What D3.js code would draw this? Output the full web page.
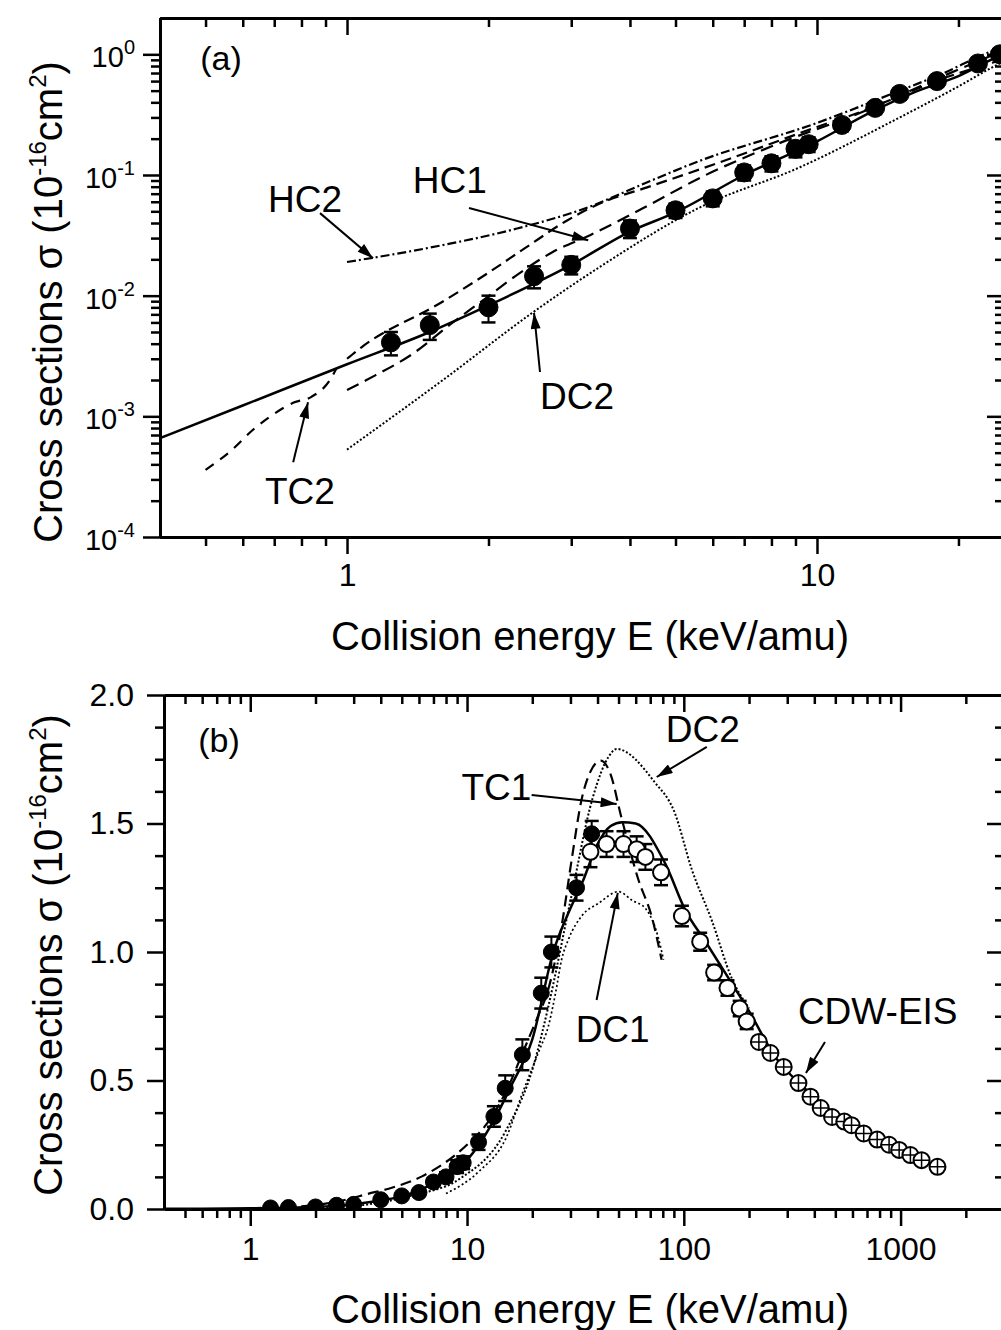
<!DOCTYPE html>
<html>
<head>
<meta charset="utf-8">
<script src="https://cdn.jsdelivr.net/npm/d3@7"></script>
<style>
  body { margin: 0; background: #fff; }
  text { font-family: "Liberation Sans", Arial, Helvetica, sans-serif; fill: #000; }
</style>
</head>
<body>
<svg id="chart" width="1001" height="1330"></svg>
<script>
// ---- measured cross sections (10^-16 cm^2) vs E (keV/amu) ----
var expE   = [1.24, 1.5, 2.0, 2.5, 3.0, 4.0, 5.0, 6.0, 7.0, 8.0, 9.0, 9.6, 11.3, 13.3, 15, 18, 22, 24.5, 32, 37.6];
var expS   = [0.0041, 0.0057, 0.0080, 0.0145, 0.018, 0.036, 0.051, 0.064, 0.105, 0.125, 0.165, 0.18, 0.26, 0.36, 0.47, 0.60, 0.84, 1.0, 1.25, 1.46];
var expErr = [0.0009, 0.0014, 0.002, 0.003, 0.003, 0.006, 0.007, 0.009, 0.015, 0.018, 0.025, 0.025, 0.03, 0.04, 0.05, 0.06, 0.06, 0.06, 0.05, 0.05];

var openE   = [37.1, 44, 52.7, 60.6, 66.5, 78.5, 98, 119, 138, 159, 181, 195];
var openS   = [1.39, 1.42, 1.42, 1.40, 1.37, 1.31, 1.14, 1.04, 0.92, 0.86, 0.78, 0.73];
var openErr = [0.06, 0.05, 0.05, 0.05, 0.05, 0.05, 0.04, 0.035, 0.03, 0.03, 0.03, 0.03];

var crossE = [222, 251, 289, 338, 384, 428, 483, 550, 594, 676, 780, 885, 985, 1110, 1250, 1480];
var crossS = [0.65, 0.607, 0.553, 0.49, 0.437, 0.393, 0.358, 0.34, 0.326, 0.294, 0.27, 0.25, 0.23, 0.21, 0.19, 0.164];

// ---- theory curves ----
var solidE = [0.4, 0.6, 1.0, 1.5, 2, 3, 4, 5, 7, 10, 13, 16, 20, 25, 30, 34, 40, 46, 52, 60, 82, 102, 126, 166, 200, 265, 350, 500, 700, 1000, 1500];
var solidS = [6.6e-4, 1.23e-3, 2.7e-3, 5.0e-3, 8.3e-3, 0.018, 0.034, 0.049, 0.10, 0.19, 0.33, 0.48, 0.66, 1.0, 1.17, 1.27, 1.42, 1.49, 1.505, 1.50, 1.345, 1.16, 1.04, 0.88, 0.77, 0.59, 0.48, 0.37, 0.29, 0.22, 0.165];

var tc1E = [1.0, 1.07, 1.58, 2.0, 2.4, 2.94, 3.45, 4.35, 6.2, 10, 12.3, 15, 18.3, 21, 23.8, 27.3, 30.4, 33.7, 37, 41.4, 46, 51.3, 61.8, 71, 79];
var tc1S = [3.0e-3, 3.7e-3, 8.7e-3, 0.0155, 0.025, 0.042, 0.058, 0.079, 0.127, 0.25, 0.33, 0.45, 0.62, 0.74, 0.86, 1.10, 1.36, 1.59, 1.70, 1.745, 1.69, 1.53, 1.28, 1.14, 0.97];

var tc2E = [0.5, 0.57, 0.63, 0.70, 0.77, 0.84, 0.92, 0.95];
var tc2S = [3.6e-4, 5.3e-4, 7.7e-4, 1.05e-3, 1.3e-3, 1.45e-3, 2.0e-3, 2.5e-3];

var hc1E = [1.0, 1.1, 1.38, 1.68, 1.95, 2.33, 2.74, 3.29, 4.26, 5.8, 8.3, 12.3, 18.3, 25];
var hc1S = [1.65e-3, 2.0e-3, 3.3e-3, 6.0e-3, 9.2e-3, 0.0154, 0.023, 0.0317, 0.053, 0.10, 0.183, 0.325, 0.645, 1.08];

var hc2E = [1.0, 1.5, 2.3, 3.3, 4.2, 5.6, 10, 15, 18.3, 23.4, 25];
var hc2S = [0.019, 0.025, 0.036, 0.055, 0.082, 0.13, 0.27, 0.50, 0.68, 1.05, 1.15];

var dc1E = [8, 11.3, 15.2, 18, 21.6, 23.7, 25.6, 27.3, 29.4, 33.8, 40.5, 50, 58, 66.5, 76, 80.6];
var dc1S = [0.06, 0.145, 0.28, 0.45, 0.62, 0.71, 0.84, 0.97, 1.05, 1.14, 1.19, 1.235, 1.20, 1.17, 1.06, 0.97];

var dc2E = [1.0, 1.6, 2.49, 3.45, 5.64, 9.2, 15, 20.3, 23.6, 30, 38, 45, 49, 73.5, 90, 109, 135, 166, 200];
var dc2S = [5.3e-4, 2.0e-3, 7.3e-3, 0.0173, 0.054, 0.116, 0.30, 0.56, 0.78, 1.2, 1.6, 1.76, 1.79, 1.66, 1.55, 1.32, 1.12, 0.90, 0.78];

// ---- ticks ----
var xMajorA = [1, 10];
var xMinorA = [0.5, 0.6, 0.7, 0.8, 0.9, 2, 3, 4, 5, 6, 7, 8, 9, 20];
var yMajorA = [1e-4, 1e-3, 1e-2, 1e-1, 1];
var yExpA   = [-4, -3, -2, -1, 0];
var xMajorB = [1, 10, 100, 1000];
var xMinorB = [0.5, 0.6, 0.7, 0.8, 0.9, 2, 3, 4, 5, 6, 7, 8, 9, 20, 30, 40, 50, 60, 70, 80, 90,
               200, 300, 400, 500, 600, 700, 800, 900, 2000];
var yMajorB = [0, 0.5, 1.0, 1.5, 2.0];
var yMinorB = [0.125, 0.25, 0.375, 0.625, 0.75, 0.875, 1.125, 1.25, 1.375, 1.625, 1.75, 1.875];

// ---- annotations (data coordinates) ----
var labA  = ["HC2", "HC1", "DC2", "TC2"];
var labAE = [0.679, 1.38, 2.574, 0.669];
var labAS = [0.0491, 0.0706, 1.16e-3, 1.88e-4];
var arrAE0 = [0.876, 1.818, 2.574, 0.768], arrAS0 = [0.0483, 0.0533, 2.33e-3, 4.17e-4];
var arrAE1 = [1.136, 3.26, 2.50, 0.826],   arrAS1 = [0.0204, 0.0288, 7.2e-3, 1.31e-3];

var labB  = ["DC2", "TC1", "DC1", "CDW-EIS"];
var labBE = [82.6, 9.43, 31.7, 336];
var labBS = [1.817, 1.591, 0.650, 0.720];
var arrBE0 = [127.7, 19.86, 39.6, 448], arrBS0 = [1.798, 1.611, 0.813, 0.650];
var arrBE1 = [75.0, 49.0, 49.6, 366],   arrBS1 = [1.681, 1.576, 1.23, 0.529];

var styles = {
  solid: {dash: null, w: 2.5},
  tc1: {dash: "11,6", w: 2.2},
  tc2: {dash: "10,8", w: 2.2},
  hc1: {dash: "13,7", w: 2.2},
  hc2: {dash: "9,3,2,3", w: 2.2},
  dc1: {dash: "2,2.5", w: 1.7},
  dc2: {dash: "2,2", w: 2}
};
var curves = {
  solid: d3.zip(solidE, solidS), tc1: d3.zip(tc1E, tc1S), tc2: d3.zip(tc2E, tc2S),
  hc1: d3.zip(hc1E, hc1S), hc2: d3.zip(hc2E, hc2S), dc1: d3.zip(dc1E, dc1S), dc2: d3.zip(dc2E, dc2S)
};

var svg = d3.select("#chart");

var defs = svg.append("defs");
defs.append("marker").attr("id", "head")
    .attr("markerUnits", "userSpaceOnUse")
    .attr("viewBox", "0 0 16 10").attr("refX", 16).attr("refY", 5)
    .attr("markerWidth", 18).attr("markerHeight", 10).attr("orient", "auto")
  .append("path").attr("d", "M0,0L16,5L0,10z").attr("fill", "#000");

var xA = d3.scaleLog().domain([0.4, 25]).range([160, 1004]);
var yA = d3.scaleLog().domain([1e-4, 2]).range([537, 18]);
var xB = d3.scaleLog().domain([0.4, 3000]).range([164, 1004]);
var yB = d3.scaleLinear().domain([0, 2]).range([1209, 695]);

function frame(g, x, y, xMaj, xMin, yMaj, yMin, xFmt, yFmt, xPad, yPad) {
  var L = x.range()[0], R = x.range()[1], B = y.range()[0], T = y.range()[1];
  var parts = [
    [d3.axisBottom(x).tickValues(xMaj).tickSizeInner(17).tickPadding(xPad).tickFormat(xFmt), "translate(0," + B + ")"],
    [d3.axisBottom(x).tickValues(xMin).tickSizeInner(9).tickFormat(""), "translate(0," + B + ")"],
    [d3.axisTop(x).tickValues(xMaj).tickSizeInner(-17).tickFormat(""), "translate(0," + T + ")"],
    [d3.axisTop(x).tickValues(xMin).tickSizeInner(-9).tickFormat(""), "translate(0," + T + ")"],
    [d3.axisLeft(y).tickValues(yMaj).tickSizeInner(17).tickPadding(yPad).tickFormat(yFmt), "translate(" + L + ",0)"],
    [d3.axisLeft(y).tickValues(yMin).tickSizeInner(9).tickFormat(""), "translate(" + L + ",0)"],
    [d3.axisRight(y).tickValues(yMaj).tickSizeInner(-17).tickFormat(""), "translate(" + R + ",0)"],
    [d3.axisRight(y).tickValues(yMin).tickSizeInner(-9).tickFormat(""), "translate(" + R + ",0)"]
  ];
  parts.forEach(function (p) {
    var a = g.append("g").attr("transform", p[1]).call(p[0].tickSizeOuter(0));
    a.select(".domain").attr("stroke", "#000").attr("stroke-width", 3);
    a.selectAll(".tick line").attr("stroke", "#000").attr("stroke-width", 2.5);
    a.selectAll(".tick text").attr("font-size", 32).attr("font-family", null).attr("fill", "#000");
  });
}

function yTitle(g, cx, cy) {
  var t = g.append("text").attr("transform", "translate(" + cx + "," + cy + ") rotate(-90)")
      .attr("text-anchor", "middle").attr("font-size", 40);
  t.append("tspan").text("Cross sections σ (10");
  t.append("tspan").attr("font-size", 24).attr("dy", -16).text("-16");
  t.append("tspan").attr("dy", 16).text("cm");
  t.append("tspan").attr("font-size", 24).attr("dy", -16).text("2");
  t.append("tspan").attr("dy", 16).text(")");
}

function panel(id, x, y, keys, pts) {
  var g = svg.append("g");
  var L = x.range()[0], R = x.range()[1], B = y.range()[0], T = y.range()[1];
  defs.append("clipPath").attr("id", "clip" + id)
    .append("rect").attr("x", L).attr("y", T).attr("width", R - L).attr("height", B - T);
  var plot = g.append("g").attr("clip-path", "url(#clip" + id + ")");
  var line = d3.line().x(function (d) { return x(d[0]); }).y(function (d) { return y(d[1]); })
      .curve(d3.curveMonotoneX);
  keys.forEach(function (k) {
    plot.append("path").datum(curves[k]).attr("d", line)
      .attr("fill", "none").attr("stroke", "#000")
      .attr("stroke-width", styles[k].w).attr("stroke-dasharray", styles[k].dash);
  });
  pts.forEach(function (s) {
    var data = s.data.filter(function (d) { return d[0] <= x.domain()[1]; });
    data.forEach(function (d) {
      if (!d[2]) return;
      var y0 = y(Math.max(d[1] - d[2], y.domain()[0])), y1 = y(d[1] + d[2]), cx = x(d[0]);
      plot.append("line").attr("x1", cx).attr("x2", cx).attr("y1", y0).attr("y2", y1)
        .attr("stroke", "#000").attr("stroke-width", 2);
      [y0, y1].forEach(function (yy) {
        plot.append("line").attr("x1", cx - 7).attr("x2", cx + 7).attr("y1", yy).attr("y2", yy)
          .attr("stroke", "#000").attr("stroke-width", 2.5);
      });
    });
    var m = plot.selectAll(null).data(data).enter().append("g")
      .attr("transform", function (d) { return "translate(" + x(d[0]) + "," + y(d[1]) + ")"; });
    m.append("circle").attr("r", s.r)
      .attr("fill", s.kind === "filled" ? "#000" : "#fff")
      .attr("stroke", "#000").attr("stroke-width", s.kind === "filled" ? 1 : 2);
    if (s.kind === "cross") {
      m.append("path").attr("d", "M" + (-s.r) + ",0H" + s.r + "M0," + (-s.r) + "V" + s.r)
        .attr("stroke", "#000").attr("stroke-width", 1.5);
    }
  });
  return g;
}

// ---------------- panel (a) ----------------
var gA = panel("A", xA, yA, ["hc2", "hc1", "tc1", "tc2", "dc2", "solid"], [
  {kind: "filled", r: 9.5, data: d3.zip(expE, expS, expErr)}
]);
frame(gA, xA, yA, xMajorA, xMinorA, yMajorA, [], d3.format("d"), "", 9, 0);
// minor log ticks on y
var yMinA = [];
yMajorA.slice(0, 4).forEach(function (v) { for (var k = 2; k <= 9; k++) yMinA.push(v * k); });
frame(gA, xA, yA, [], [], [], yMinA, "", "", 0, 0);
var yl = gA.append("g").selectAll(null).data(d3.zip(yMajorA, yExpA)).enter().append("text")
    .attr("x", 135).attr("y", function (d) { return yA(d[0]) + 13; })
    .attr("text-anchor", "end").attr("font-size", 29);
yl.append("tspan").text("10");
yl.append("tspan").attr("font-size", 20).attr("dy", -13).text(function (d) { return d[1]; });

gA.append("text").attr("x", xA(0.487)).attr("y", yA(0.737)).attr("font-size", 34).text("(a)");
gA.append("text").attr("x", 590).attr("y", 650).attr("text-anchor", "middle").attr("font-size", 40)
  .text("Collision energy E (keV/amu)");
yTitle(gA, 62, 302);
labA.forEach(function (t, i) {
  gA.append("text").attr("x", xA(labAE[i])).attr("y", yA(labAS[i])).attr("font-size", 37).text(t);
  gA.append("line").attr("x1", xA(arrAE0[i])).attr("y1", yA(arrAS0[i]))
    .attr("x2", xA(arrAE1[i])).attr("y2", yA(arrAS1[i]))
    .attr("stroke", "#000").attr("stroke-width", 2).attr("marker-end", "url(#head)");
});

// ---------------- panel (b) ----------------
var gB = panel("B", xB, yB, ["dc1", "dc2", "tc1", "solid"], [
  {kind: "filled", r: 8, data: d3.zip(expE, expS, expErr)},
  {kind: "open", r: 8, data: d3.zip(openE, openS, openErr)},
  {kind: "cross", r: 8, data: d3.zip(crossE, crossS)}
]);
frame(gB, xB, yB, xMajorB, xMinorB, yMajorB, yMinorB, d3.format("d"), d3.format(".1f"), 11, 13);
gB.append("text").attr("x", xB(0.575)).attr("y", yB(1.778)).attr("font-size", 34).text("(b)");
gB.append("text").attr("x", 590).attr("y", 1323).attr("text-anchor", "middle").attr("font-size", 40)
  .text("Collision energy E (keV/amu)");
yTitle(gB, 62, 955);
labB.forEach(function (t, i) {
  gB.append("text").attr("x", xB(labBE[i])).attr("y", yB(labBS[i])).attr("font-size", 37).text(t);
  gB.append("line").attr("x1", xB(arrBE0[i])).attr("y1", yB(arrBS0[i]))
    .attr("x2", xB(arrBE1[i])).attr("y2", yB(arrBS1[i]))
    .attr("stroke", "#000").attr("stroke-width", 2).attr("marker-end", "url(#head)");
});
</script>
</body>
</html>
